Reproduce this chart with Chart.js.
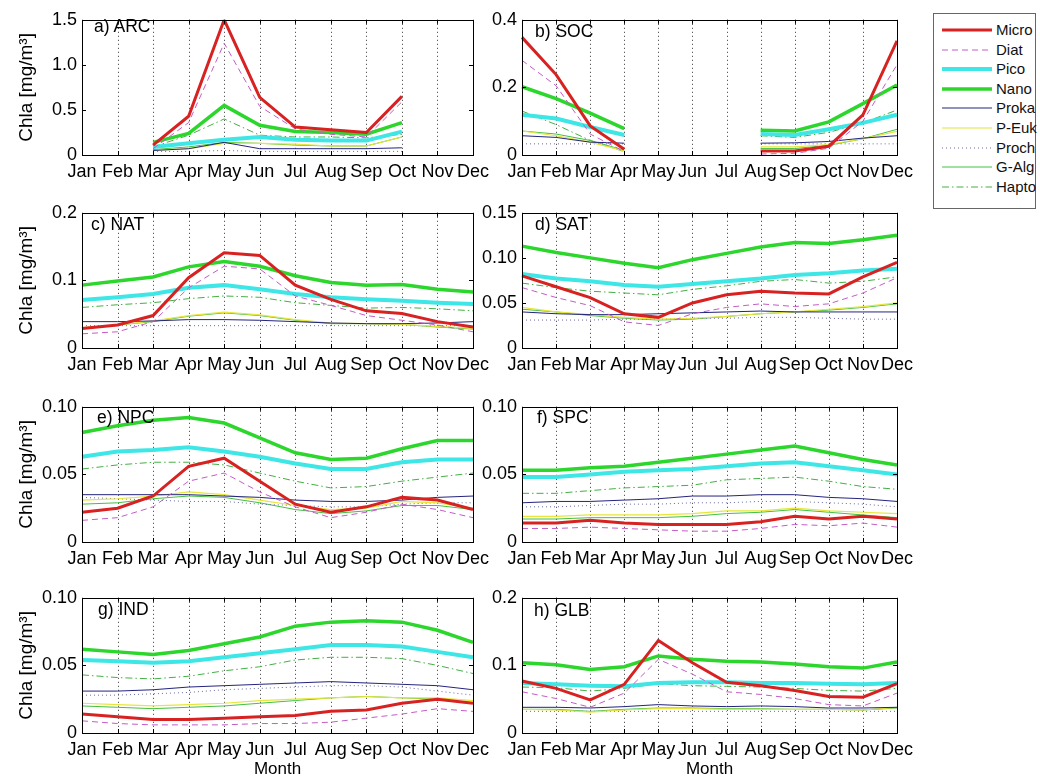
<!DOCTYPE html>
<html>
<head>
<meta charset="utf-8">
<script src="https://cdn.jsdelivr.net/npm/chart.js@4.4.1/dist/chart.umd.min.js"></script>
<style>
body{margin:0;background:#fff;width:1040px;height:780px;position:relative;overflow:hidden;font-family:"Liberation Sans",Arial,sans-serif}
canvas{position:absolute}
.tag{position:absolute;font-size:17.5px;line-height:18px;color:#000;white-space:nowrap}
#legend{position:absolute;left:933px;top:13px;width:101px;height:194px;border:1px solid #666;background:#fff}
#legend .row{position:absolute;left:0;height:18px;width:100px}
#legend svg{position:absolute;left:8px;top:4px}
#legend span{position:absolute;left:62px;top:0;font-size:15px;line-height:18px;color:#111;white-space:nowrap}
</style>
</head>
<body>
<div id="legend"></div>
<script>
const months = ['Jan','Feb','Mar','Apr','May','Jun','Jul','Aug','Sep','Oct','Nov','Dec'];
const seriesNames = ['Micro','Diat','Pico','Nano','Proka','P-Euk','Proch','G-Alg','Hapto'];

// a) ARC
const arcMicro = [null,null,0.11,0.43,1.50,0.64,0.31,0.28,0.25,0.65,null,null];
const arcDiat  = [null,null,0.07,0.36,1.24,0.54,0.29,0.23,0.20,0.59,null,null];
const arcPico  = [null,null,0.09,0.13,0.17,0.20,0.17,0.16,0.16,0.26,null,null];
const arcNano  = [null,null,0.14,0.24,0.55,0.33,0.26,0.25,0.23,0.36,null,null];
const arcProka = [null,null,0.05,0.07,0.14,0.07,0.07,0.07,0.07,0.08,null,null];
const arcPEuk  = [null,null,0.05,0.07,0.13,0.13,0.12,0.10,0.10,0.20,null,null];
const arcProch = [null,null,0.04,0.04,0.05,0.04,0.04,0.04,0.04,0.04,null,null];
const arcGAlg  = [null,null,0.06,0.09,0.14,0.13,0.11,0.10,0.10,0.20,null,null];
const arcHapto = [null,null,0.09,0.22,0.40,0.22,0.20,0.20,0.19,0.23,null,null];
const arcTicks = ['0','0.5','1.0','1.5'];

// b) SOC
const socMicro = [0.348,0.238,0.086,0.017,null,null,null,0.012,0.012,0.026,0.119,0.338];
const socDiat  = [0.280,0.205,0.062,0.010,null,null,null,0.003,0.005,0.020,0.100,0.267];
const socPico  = [0.119,0.108,0.083,0.059,null,null,null,0.062,0.059,0.076,0.095,0.119];
const socNano  = [0.202,0.167,0.124,0.078,null,null,null,0.073,0.071,0.098,0.152,0.207];
const socProka = [0.057,0.052,0.038,0.035,null,null,null,0.035,0.036,0.040,0.050,0.057];
const socPEuk  = [0.071,0.057,0.038,0.012,null,null,null,0.024,0.024,0.031,0.048,0.070];
const socProch = [0.033,0.033,0.033,0.033,null,null,null,0.033,0.033,0.033,0.033,0.033];
const socGAlg  = [0.071,0.062,0.043,0.014,null,null,null,0.019,0.019,0.029,0.048,0.076];
const socHapto = [0.130,0.090,0.043,0.010,null,null,null,0.057,0.052,0.067,0.095,0.133];
const socTicks = ['0','0.2','0.4'];

// c) NAT
const natMicro = [0.029,0.034,0.048,0.104,0.141,0.137,0.093,0.072,0.055,0.051,0.039,0.031];
const natDiat  = [0.021,0.024,0.039,0.089,0.121,0.117,0.077,0.063,0.048,0.041,0.034,0.024];
const natPico  = [0.071,0.075,0.080,0.089,0.093,0.087,0.080,0.075,0.072,0.070,0.067,0.065];
const natNano  = [0.093,0.099,0.105,0.120,0.128,0.121,0.107,0.097,0.093,0.094,0.087,0.083];
const natProka = [0.039,0.039,0.040,0.042,0.042,0.041,0.039,0.037,0.036,0.036,0.037,0.039];
const natPEuk  = [0.030,0.034,0.040,0.048,0.053,0.049,0.042,0.037,0.036,0.035,0.032,0.029];
const natProch = [0.033,0.033,0.033,0.033,0.033,0.033,0.033,0.033,0.033,0.033,0.033,0.033];
const natGAlg  = [0.029,0.034,0.039,0.047,0.052,0.048,0.041,0.036,0.036,0.035,0.031,0.028];
const natHapto = [0.060,0.064,0.067,0.073,0.077,0.075,0.067,0.063,0.059,0.060,0.058,0.055];
const natTicks = ['0','0.1','0.2'];

// d) SAT
const satMicro = [0.080,0.068,0.056,0.038,0.034,0.050,0.059,0.063,0.061,0.060,0.079,0.095];
const satDiat  = [0.067,0.056,0.047,0.029,0.025,0.038,0.045,0.049,0.046,0.049,0.061,0.078];
const satPico  = [0.082,0.077,0.074,0.070,0.068,0.071,0.074,0.077,0.081,0.083,0.086,0.088];
const satNano  = [0.113,0.106,0.100,0.094,0.089,0.098,0.105,0.112,0.117,0.116,0.120,0.125];
const satProka = [0.040,0.038,0.037,0.037,0.038,0.039,0.040,0.041,0.040,0.040,0.040,0.040];
const satPEuk  = [0.045,0.040,0.037,0.034,0.032,0.033,0.035,0.038,0.040,0.043,0.046,0.050];
const satProch = [0.031,0.031,0.031,0.032,0.032,0.033,0.033,0.034,0.034,0.033,0.032,0.032];
const satGAlg  = [0.043,0.040,0.036,0.033,0.031,0.032,0.035,0.038,0.040,0.042,0.045,0.049];
const satHapto = [0.072,0.067,0.063,0.061,0.059,0.065,0.069,0.074,0.076,0.072,0.074,0.079];
const satTicks = ['0','0.05','0.10','0.15'];

// e) NPC
const npcMicro = [0.022,0.025,0.034,0.056,0.062,0.045,0.028,0.022,0.026,0.033,0.031,0.024];
const npcDiat  = [0.016,0.018,0.026,0.045,0.051,0.037,0.026,0.018,0.022,0.028,0.024,0.018];
const npcPico  = [0.063,0.067,0.068,0.070,0.067,0.063,0.058,0.054,0.054,0.059,0.061,0.061];
const npcNano  = [0.081,0.086,0.090,0.092,0.088,0.077,0.066,0.061,0.062,0.069,0.075,0.075];
const npcProka = [0.035,0.035,0.035,0.035,0.034,0.033,0.031,0.030,0.030,0.031,0.033,0.034];
const npcPEuk  = [0.031,0.032,0.034,0.037,0.035,0.031,0.027,0.024,0.025,0.030,0.029,0.025];
const npcProch = [0.033,0.032,0.031,0.030,0.030,0.028,0.027,0.026,0.026,0.028,0.029,0.029];
const npcGAlg  = [0.028,0.029,0.032,0.034,0.033,0.029,0.024,0.021,0.023,0.027,0.027,0.024];
const npcHapto = [0.054,0.057,0.059,0.059,0.057,0.051,0.045,0.040,0.041,0.045,0.048,0.051];
const npcTicks = ['0','0.05','0.10'];

// f) SPC
const spcMicro = [0.014,0.014,0.016,0.014,0.013,0.013,0.013,0.015,0.019,0.017,0.019,0.017];
const spcDiat  = [0.010,0.010,0.011,0.010,0.009,0.008,0.008,0.010,0.013,0.012,0.014,0.011];
const spcPico  = [0.048,0.048,0.050,0.052,0.053,0.054,0.056,0.058,0.059,0.056,0.053,0.050];
const spcNano  = [0.053,0.053,0.055,0.056,0.059,0.062,0.065,0.068,0.071,0.066,0.061,0.057];
const spcProka = [0.029,0.030,0.030,0.031,0.032,0.034,0.034,0.035,0.035,0.033,0.032,0.030];
const spcPEuk  = [0.019,0.019,0.020,0.020,0.020,0.021,0.023,0.023,0.025,0.023,0.022,0.021];
const spcProch = [0.026,0.026,0.027,0.028,0.028,0.029,0.029,0.030,0.030,0.029,0.028,0.026];
const spcGAlg  = [0.017,0.017,0.018,0.018,0.018,0.019,0.021,0.022,0.024,0.022,0.020,0.018];
const spcHapto = [0.036,0.036,0.038,0.040,0.041,0.042,0.046,0.047,0.048,0.045,0.041,0.039];
const spcTicks = ['0','0.05','0.10'];

// g) IND
const indMicro = [0.014,0.012,0.010,0.010,0.011,0.012,0.013,0.016,0.017,0.022,0.025,0.022];
const indDiat  = [0.009,0.007,0.006,0.006,0.006,0.007,0.007,0.008,0.011,0.014,0.018,0.016];
const indPico  = [0.054,0.053,0.052,0.053,0.056,0.059,0.062,0.065,0.065,0.064,0.060,0.056];
const indNano  = [0.062,0.060,0.058,0.061,0.066,0.071,0.079,0.082,0.083,0.082,0.076,0.067];
const indProka = [0.031,0.031,0.032,0.034,0.035,0.036,0.037,0.038,0.037,0.036,0.035,0.032];
const indPEuk  = [0.022,0.021,0.020,0.021,0.022,0.024,0.025,0.026,0.027,0.026,0.026,0.024];
const indProch = [0.028,0.028,0.029,0.030,0.032,0.033,0.034,0.035,0.035,0.034,0.031,0.028];
const indGAlg  = [0.020,0.019,0.018,0.019,0.020,0.022,0.024,0.026,0.027,0.026,0.025,0.022];
const indHapto = [0.043,0.041,0.040,0.042,0.046,0.049,0.054,0.056,0.056,0.055,0.050,0.044];
const indTicks = ['0','0.05','0.10'];

// h) GLB
const glbMicro = [0.077,0.066,0.049,0.072,0.137,0.104,0.075,0.070,0.063,0.054,0.053,0.073];
const glbDiat  = [0.061,0.051,0.038,0.059,0.109,0.087,0.061,0.057,0.051,0.042,0.040,0.059];
const glbPico  = [0.074,0.072,0.070,0.069,0.074,0.075,0.075,0.074,0.074,0.073,0.072,0.074];
const glbNano  = [0.104,0.101,0.094,0.098,0.114,0.109,0.106,0.105,0.102,0.098,0.096,0.105];
const glbProka = [0.038,0.038,0.037,0.039,0.042,0.040,0.039,0.040,0.039,0.037,0.037,0.038];
const glbPEuk  = [0.035,0.034,0.031,0.034,0.036,0.036,0.035,0.035,0.035,0.035,0.034,0.038];
const glbProch = [0.032,0.032,0.032,0.032,0.032,0.032,0.032,0.032,0.032,0.032,0.032,0.032];
const glbGAlg  = [0.035,0.035,0.032,0.035,0.037,0.037,0.036,0.036,0.035,0.035,0.034,0.037];
const glbHapto = [0.068,0.067,0.062,0.066,0.073,0.070,0.069,0.068,0.066,0.063,0.062,0.066];
const glbTicks = ['0','0.1','0.2'];

const panels = [
  {tag:'a) ARC', ticks:arcTicks, series:[arcMicro,arcDiat,arcPico,arcNano,arcProka,arcPEuk,arcProch,arcGAlg,arcHapto]},
  {tag:'b) SOC', ticks:socTicks, series:[socMicro,socDiat,socPico,socNano,socProka,socPEuk,socProch,socGAlg,socHapto]},
  {tag:'c) NAT', ticks:natTicks, series:[natMicro,natDiat,natPico,natNano,natProka,natPEuk,natProch,natGAlg,natHapto]},
  {tag:'d) SAT', ticks:satTicks, series:[satMicro,satDiat,satPico,satNano,satProka,satPEuk,satProch,satGAlg,satHapto]},
  {tag:'e) NPC', ticks:npcTicks, series:[npcMicro,npcDiat,npcPico,npcNano,npcProka,npcPEuk,npcProch,npcGAlg,npcHapto]},
  {tag:'f) SPC', ticks:spcTicks, series:[spcMicro,spcDiat,spcPico,spcNano,spcProka,spcPEuk,spcProch,spcGAlg,spcHapto]},
  {tag:'g) IND', ticks:indTicks, series:[indMicro,indDiat,indPico,indNano,indProka,indPEuk,indProch,indGAlg,indHapto]},
  {tag:'h) GLB', ticks:glbTicks, series:[glbMicro,glbDiat,glbPico,glbNano,glbProka,glbPEuk,glbProch,glbGAlg,glbHapto]}
];

// line styles, same order as seriesNames
const styles = [
  {color:'#d82222', width:3,   dash:[]},
  {color:'#c45cc8', width:1,   dash:[6,4]},
  {color:'#3ee6e6', width:4,   dash:[]},
  {color:'#2cd62c', width:3.5, dash:[]},
  {color:'#24247e', width:1,   dash:[]},
  {color:'#e6e63c', width:1.2, dash:[]},
  {color:'#6a6aa0', width:1,   dash:[1,3]},
  {color:'#44c044', width:1,   dash:[]},
  {color:'#44b044', width:1,   dash:[7,3,1.5,3]}
];

// page layout
const colLeft = [0, 480];
const colWidth = [500, 440];
const axisWidth = [82, 42];
const padRight = [27, 23];
const rowTop = [16, 209, 403, 594];
const plotH = 139;
const padTop = 12;
const tagPos = [[94,17],[535,22],[91,215],[535,215],[97,408],[537,408],[98,600],[534,601]];

Chart.defaults.font.family = '"Liberation Sans", Arial, sans-serif';
Chart.defaults.color = '#000';

// matlab-like box, dotted month grid and inward ticks
const frame = {
  id: 'frame',
  beforeDatasetsDraw(chart) {
    const {ctx, chartArea: {top, bottom}, scales: {x}} = chart;
    ctx.save();
    ctx.strokeStyle = '#333';
    ctx.lineWidth = 1;
    ctx.setLineDash([1, 3]);
    for (let i = 1; i < months.length - 1; i++) {
      const px = Math.round(x.getPixelForValue(i)) + 0.5;
      ctx.beginPath(); ctx.moveTo(px, top); ctx.lineTo(px, bottom); ctx.stroke();
    }
    ctx.restore();
  },
  afterDraw(chart) {
    const {ctx, chartArea: {left, right, top, bottom}, scales: {x, y}} = chart;
    ctx.save();
    ctx.strokeStyle = '#000';
    ctx.lineWidth = 1;
    ctx.strokeRect(Math.round(left) + 0.5, Math.round(top) + 0.5, Math.round(right - left), Math.round(bottom - top));
    ctx.beginPath();
    for (let i = 0; i < months.length; i++) {
      const px = Math.round(x.getPixelForValue(i)) + 0.5;
      ctx.moveTo(px, bottom); ctx.lineTo(px, bottom - 4);
      ctx.moveTo(px, top); ctx.lineTo(px, top + 4);
    }
    y.ticks.forEach(t => {
      const py = Math.round(y.getPixelForValue(t.value)) + 0.5;
      ctx.moveTo(left, py); ctx.lineTo(left + 4, py);
      ctx.moveTo(right, py); ctx.lineTo(right - 4, py);
    });
    ctx.stroke();
    ctx.restore();
  }
};

panels.forEach((p, k) => {
  const col = k % 2, row = Math.floor(k / 2);
  const last = row === 3;
  const xH = last ? 47 : 30;
  const c = document.createElement('canvas');
  c.width = colWidth[col];
  c.height = padTop + plotH + xH;
  c.style.left = colLeft[col] + 'px';
  c.style.top = (rowTop[row] - padTop) + 'px';
  document.body.appendChild(c);

  const tickVals = p.ticks.map(t => parseFloat(t));
  new Chart(c.getContext('2d'), {
    type: 'line',
    data: {
      labels: months,
      datasets: seriesNames.map((n, i) => ({
        label: n,
        data: p.series[i],
        borderColor: styles[i].color,
        borderWidth: styles[i].width,
        borderDash: styles[i].dash,
        pointRadius: 0,
        tension: 0,
        fill: false,
        spanGaps: false
      }))
    },
    options: {
      responsive: false,
      animation: false,
      events: [],
      layout: {padding: {top: padTop, right: padRight[col], left: 0, bottom: 0}},
      plugins: {legend: {display: false}, tooltip: {enabled: false}},
      scales: {
        x: {
          offset: false,
          grid: {display: false, drawTicks: false},
          border: {display: false},
          ticks: {autoSkip: false, maxRotation: 0, padding: 6, font: {size: 18}},
          title: {display: last, text: 'Month', font: {size: 17}, padding: 0},
          afterFit: s => { s.height = xH; }
        },
        y: {
          min: 0,
          max: tickVals[tickVals.length - 1],
          grid: {display: false, drawTicks: false},
          border: {display: false},
          afterBuildTicks: s => { s.ticks = tickVals.map(v => ({value: v})); },
          ticks: {padding: 5, font: {size: 18}, callback: (v, i) => p.ticks[i]},
          title: {display: col === 0, text: 'Chla [mg/m³]', font: {size: 19}, padding: {top: 15, bottom: 0}},
          afterFit: s => { s.width = axisWidth[col]; }
        }
      }
    },
    plugins: [frame]
  });

  const tag = document.createElement('div');
  tag.className = 'tag';
  tag.textContent = p.tag;
  tag.style.left = tagPos[k][0] + 'px';
  tag.style.top = tagPos[k][1] + 'px';
  document.body.appendChild(tag);
});

// legend
const legend = document.getElementById('legend');
seriesNames.forEach((n, i) => {
  const r = document.createElement('div');
  r.className = 'row';
  r.style.top = (7 + i * 19.6) + 'px';
  const s = styles[i];
  r.innerHTML = '<svg width="50" height="10"><line x1="0" y1="5" x2="50" y2="5" stroke="' + s.color +
    '" stroke-width="' + s.width + '" stroke-dasharray="' + (s.dash.length ? s.dash.join(',') : 'none') + '"/></svg><span>' + n + '</span>';
  legend.appendChild(r);
});
</script>
</body>
</html>
